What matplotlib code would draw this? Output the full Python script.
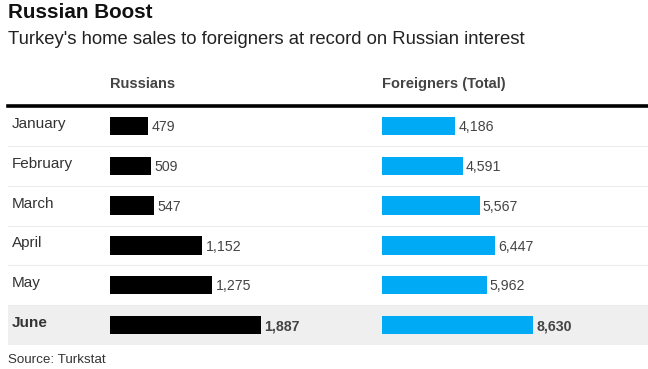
import matplotlib.pyplot as plt

months = ['January', 'February', 'March', 'April', 'May', 'June']
russians = [479, 509, 547, 1152, 1275, 1887]
foreigners = [4186, 4591, 5567, 6447, 5962, 8630]

W, H = 648, 369
plt.rcParams['font.family'] = ['Liberation Sans', 'DejaVu Sans']

fig = plt.figure(figsize=(W / 100, H / 100), dpi=100)
fig.patch.set_facecolor('white')

def px(x0, y0, x1, y1):
    # pixel box (top-left origin) -> figure rect
    return [x0 / W, 1 - y1 / H, (x1 - x0) / W, (y1 - y0) / H]

top, bottom = 106, 345
ys = list(range(len(months)))

# background table: row lines, highlight, month names
bg = fig.add_axes(px(8, top, 648, bottom))
bg.set_xlim(0, 1)
bg.set_ylim(len(months) - 0.5, -0.5)
bg.axis('off')
bg.axhspan(len(months) - 1.5, len(months) - 0.5, color='#efefef', lw=0, zorder=0)
for i in range(len(months) - 1):
    bg.axhline(i + 0.5, color='#ececec', lw=0.8, zorder=0)
bg.axhline(-0.5, color='black', lw=2.6, zorder=1, clip_on=False)
for i, m in enumerate(months):
    bg.text(4 / 640, i - 0.05, m, fontsize=11, color='#333333', va='center', ha='left',
            fontweight='bold' if m == 'June' else 'normal')

ax1 = fig.add_axes(px(110, top, 330, bottom))
ax1.barh(ys, russians, height=0.46, color='black')
ax1.set_xlim(0, 220 / 0.08)
ax1.set_ylim(len(months) - 0.5, -0.5)
ax1.axis('off')
for i, v in enumerate(russians):
    ax1.text(v + 45, i + 0.03, f'{v:,}', fontsize=10.2, color='#444444', va='center',
             fontweight='bold' if i == len(months) - 1 else 'normal')

ax2 = fig.add_axes(px(382, top, 648, bottom))
ax2.barh(ys, foreigners, height=0.46, color='#00aaf5')
ax2.set_xlim(0, 266 / 0.01755)
ax2.set_ylim(len(months) - 0.5, -0.5)
ax2.axis('off')
for i, v in enumerate(foreigners):
    ax2.text(v + 160, i + 0.03, f'{v:,}', fontsize=10.2, color='#444444', va='center',
             fontweight='bold' if i == len(months) - 1 else 'normal')

fig.text(8 / W, 1 - 13 / H, 'Russian Boost', fontsize=14.9, fontweight='bold', color='#111111', va='center')
fig.text(8 / W, 1 - 39 / H, "Turkey's home sales to foreigners at record on Russian interest",
         fontsize=13.3, color='#222222', va='center')
fig.text(110 / W, 1 - 84 / H, 'Russians', fontsize=10.5, fontweight='bold', color='#444444', va='center')
fig.text(382 / W, 1 - 84 / H, 'Foreigners (Total)', fontsize=10.5, fontweight='bold', color='#444444', va='center')
fig.text(8 / W, 1 - 360 / H, 'Source: Turkstat', fontsize=9.6, color='#333333', va='center')

fig.savefig('out.png', dpi=100, facecolor='white')
